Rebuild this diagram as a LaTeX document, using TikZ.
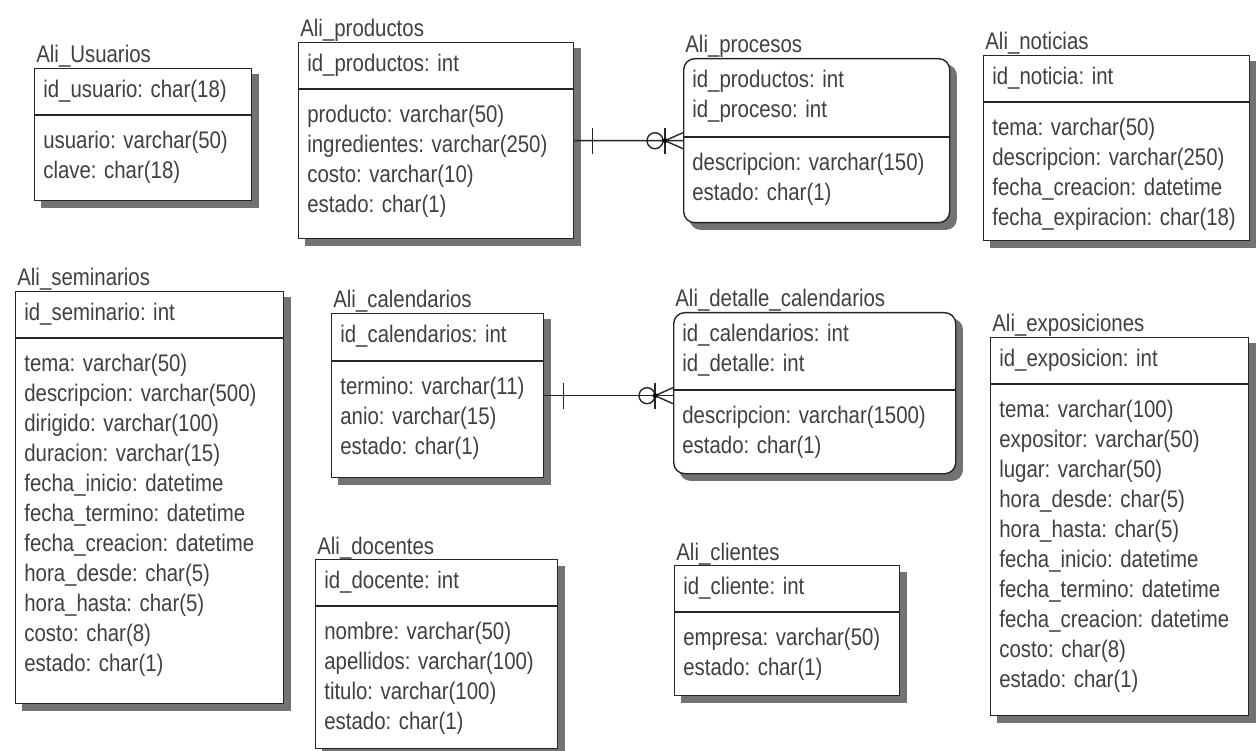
\documentclass[tikz,border=0pt]{standalone}
\usepackage{fontspec}
\setmainfont{Liberation Sans}[FakeStretch=0.85]
\usetikzlibrary{backgrounds}
\tikzstyle{entity} = [rectangle, draw=black!85, line width=0.8pt, fill=white, anchor=north west]
\tikzstyle{depent} = [entity, rounded corners=0.22cm]
\tikzstyle{dropfill} = [fill=black!55]
\tikzstyle{entname} = [anchor=base west, inner sep=0.04cm, font=\fontsize{13.66}{17.07}\selectfont, text=black!75]
\tikzstyle{keys} = [anchor=north west, align=left, inner xsep=0.18cm, inner ysep=0.24cm, font=\fontsize{13.66}{17.07}\selectfont, text=black!75]
\tikzstyle{attrs} = [keys, inner ysep=0.31cm]
\tikzstyle{split} = [draw=black!85, line width=0.8pt]
\tikzstyle{rel} = [draw=black!85, line width=0.8pt]

\begin{document}
\begin{tikzpicture}
    \useasboundingbox (0,0) rectangle (25.12,-15.02);

    % Ali_Usuarios
    \node [entity, minimum width=4.34cm, minimum height=2.64cm] at (0.68,-1.36) (usuarios) {};
    \node [entname] at ([yshift=0.1cm]usuarios.north west) (usuarios-n) {Ali\_Usuarios};
    \node [keys] at (usuarios.north west) (usuarios-k) {id\_usuario: char(18)};
    \draw [split] ([yshift=-0.94cm]usuarios.north west) -- ([yshift=-0.94cm]usuarios.north east);
    \node [attrs] at ([yshift=-0.94cm]usuarios.north west) (usuarios-a) {usuario: varchar(50)\\clave: char(18)};

    % Ali_productos
    \node [entity, minimum width=5.50cm, minimum height=3.92cm] at (5.96,-0.84) (productos) {};
    \node [entname] at ([yshift=0.1cm]productos.north west) (productos-n) {Ali\_productos};
    \node [keys] at (productos.north west) (productos-k) {id\_productos: int};
    \draw [split] ([yshift=-0.94cm]productos.north west) -- ([yshift=-0.94cm]productos.north east);
    \node [attrs] at ([yshift=-0.94cm]productos.north west) (productos-a) {producto: varchar(50)\\ingredientes: varchar(250)\\costo: varchar(10)\\estado: char(1)};

    % Ali_procesos
    \node [depent, minimum width=5.32cm, minimum height=3.28cm] at (13.66,-1.16) (procesos) {};
    \node [entname] at ([yshift=0.1cm]procesos.north west) (procesos-n) {Ali\_procesos};
    \node [keys] at (procesos.north west) (procesos-k) {id\_productos: int\\id\_proceso: int};
    \draw [split] ([yshift=-1.58cm]procesos.north west) -- ([yshift=-1.58cm]procesos.north east);
    \node [attrs] at ([yshift=-1.58cm]procesos.north west) (procesos-a) {descripcion: varchar(150)\\estado: char(1)};

    % Ali_noticias
    \node [entity, minimum width=5.32cm, minimum height=3.70cm] at (19.66,-1.10) (noticias) {};
    \node [entname] at ([yshift=0.1cm]noticias.north west) (noticias-n) {Ali\_noticias};
    \node [keys] at (noticias.north west) (noticias-k) {id\_noticia: int};
    \draw [split] ([yshift=-0.94cm]noticias.north west) -- ([yshift=-0.94cm]noticias.north east);
    \node [attrs] at ([yshift=-0.94cm]noticias.north west) (noticias-a) {tema: varchar(50)\\descripcion: varchar(250)\\fecha\_creacion: datetime\\fecha\_expiracion: char(18)};

    % Ali_seminarios
    \node [entity, minimum width=5.36cm, minimum height=8.24cm] at (0.30,-5.82) (seminarios) {};
    \node [entname] at ([yshift=0.1cm]seminarios.north west) (seminarios-n) {Ali\_seminarios};
    \node [keys] at (seminarios.north west) (seminarios-k) {id\_seminario: int};
    \draw [split] ([yshift=-0.94cm]seminarios.north west) -- ([yshift=-0.94cm]seminarios.north east);
    \node [attrs] at ([yshift=-0.94cm]seminarios.north west) (seminarios-a) {tema: varchar(50)\\descripcion: varchar(500)\\dirigido: varchar(100)\\duracion: varchar(15)\\fecha\_inicio: datetime\\fecha\_termino: datetime\\fecha\_creacion: datetime\\hora\_desde: char(5)\\hora\_hasta: char(5)\\costo: char(8)\\estado: char(1)};

    % Ali_calendarios
    \node [entity, minimum width=4.24cm, minimum height=3.28cm] at (6.62,-6.26) (calendarios) {};
    \node [entname] at ([yshift=0.1cm]calendarios.north west) (calendarios-n) {Ali\_calendarios};
    \node [keys] at (calendarios.north west) (calendarios-k) {id\_calendarios: int};
    \draw [split] ([yshift=-0.96cm]calendarios.north west) -- ([yshift=-0.96cm]calendarios.north east);
    \node [attrs] at ([yshift=-0.96cm]calendarios.north west) (calendarios-a) {termino: varchar(11)\\anio: varchar(15)\\estado: char(1)};

    % Ali_detalle_calendarios
    \node [depent, minimum width=5.64cm, minimum height=3.22cm] at (13.46,-6.24) (detalle) {};
    \node [entname] at ([yshift=0.1cm]detalle.north west) (detalle-n) {Ali\_detalle\_calendarios};
    \node [keys] at (detalle.north west) (detalle-k) {id\_calendarios: int\\id\_detalle: int};
    \draw [split] ([yshift=-1.56cm]detalle.north west) -- ([yshift=-1.56cm]detalle.north east);
    \node [attrs] at ([yshift=-1.56cm]detalle.north west) (detalle-a) {descripcion: varchar(1500)\\estado: char(1)};

    % Ali_exposiciones
    \node [entity, minimum width=5.16cm, minimum height=7.56cm] at (19.80,-6.74) (exposiciones) {};
    \node [entname] at ([yshift=0.1cm]exposiciones.north west) (exposiciones-n) {Ali\_exposiciones};
    \node [keys] at (exposiciones.north west) (exposiciones-k) {id\_exposicion: int};
    \draw [split] ([yshift=-0.94cm]exposiciones.north west) -- ([yshift=-0.94cm]exposiciones.north east);
    \node [attrs] at ([yshift=-0.94cm]exposiciones.north west) (exposiciones-a) {tema: varchar(100)\\expositor: varchar(50)\\lugar: varchar(50)\\hora\_desde: char(5)\\hora\_hasta: char(5)\\fecha\_inicio: datetime\\fecha\_termino: datetime\\fecha\_creacion: datetime\\costo: char(8)\\estado: char(1)};

    % Ali_docentes
    \node [entity, minimum width=4.84cm, minimum height=3.78cm] at (6.30,-11.18) (docentes) {};
    \node [entname] at ([yshift=0.1cm]docentes.north west) (docentes-n) {Ali\_docentes};
    \node [keys] at (docentes.north west) (docentes-k) {id\_docente: int};
    \draw [split] ([yshift=-0.94cm]docentes.north west) -- ([yshift=-0.94cm]docentes.north east);
    \node [attrs] at ([yshift=-0.94cm]docentes.north west) (docentes-a) {nombre: varchar(50)\\apellidos: varchar(100)\\titulo: varchar(100)\\estado: char(1)};

    % Ali_clientes
    \node [entity, minimum width=4.50cm, minimum height=2.60cm] at (13.48,-11.30) (clientes) {};
    \node [entname] at ([yshift=0.1cm]clientes.north west) (clientes-n) {Ali\_clientes};
    \node [keys] at (clientes.north west) (clientes-k) {id\_cliente: int};
    \draw [split] ([yshift=-0.94cm]clientes.north west) -- ([yshift=-0.94cm]clientes.north east);
    \node [attrs] at ([yshift=-0.94cm]clientes.north west) (clientes-a) {empresa: varchar(50)\\estado: char(1)};

    % shadows behind the boxes
    \begin{scope}[on background layer]
        \foreach \e in {usuarios, productos, noticias, seminarios, calendarios, exposiciones, docentes, clientes}
            \fill [dropfill] ([shift={(0.13,-0.13)}]\e.north west) rectangle ([shift={(0.13,-0.13)}]\e.south east);
        \foreach \e in {procesos, detalle}
            \fill [dropfill, rounded corners=0.22cm] ([shift={(0.13,-0.13)}]\e.north west) rectangle ([shift={(0.13,-0.13)}]\e.south east);
    \end{scope}

    % productos -> procesos
    \draw [rel] (productos.east) -- (procesos.west);
    \draw [rel] ([xshift=0.36cm]productos.east) ++(0,0.26) -- ++(0,-0.52);
    \draw [rel] ([xshift=-0.56cm]procesos.west) circle [radius=0.16];
    \draw [rel] ([xshift=-0.36cm]procesos.west) ++(0,0.26) -- ++(0,-0.52);
    \draw [rel] ([yshift=0.16cm]procesos.west) -- ([xshift=-0.36cm]procesos.west) -- ([yshift=-0.16cm]procesos.west);
    \fill ([xshift=-0.36cm]procesos.west) circle [radius=0.05];

    % calendarios -> detalle
    \coordinate (detalle-in) at (calendarios.east -| detalle.west);
    \draw [rel] (calendarios.east) -- (detalle-in);
    \draw [rel] ([xshift=0.38cm]calendarios.east) ++(0,0.26) -- ++(0,-0.52);
    \draw [rel] ([xshift=-0.52cm]detalle-in) circle [radius=0.16];
    \draw [rel] ([xshift=-0.36cm]detalle-in) ++(0,0.26) -- ++(0,-0.52);
    \draw [rel] ([yshift=0.16cm]detalle-in) -- ([xshift=-0.36cm]detalle-in) -- ([yshift=-0.16cm]detalle-in);
    \fill ([xshift=-0.36cm]detalle-in) circle [radius=0.05];
\end{tikzpicture}
\end{document}
